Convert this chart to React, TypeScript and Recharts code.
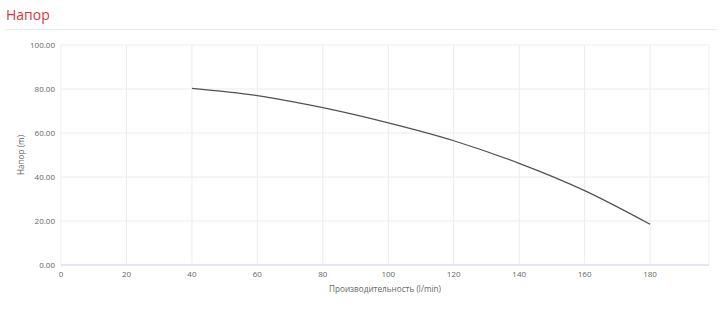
import { CartesianGrid, Line, LineChart, XAxis, YAxis } from 'recharts';

const flow = [40, 60, 80, 100, 120, 140, 160, 180];
const head = [80.3, 77.0, 71.5, 64.6, 56.5, 46.2, 33.8, 18.5];
const xTicks = [0, 20, 40, 60, 80, 100, 120, 140, 160, 180];
const yTicks = [0, 20, 40, 60, 80, 100];

const data = flow.map((q, i) => ({ q, h: head[i] }));

const FONT = '"Open Sans", sans-serif';
const tick = { fontSize: 8, fill: '#666666', fontFamily: FONT };

const YLabel = () => (
  <text x={20} y={155} transform="rotate(-90, 20, 155)" textAnchor="middle" dominantBaseline="central" fontSize={8.2} fill="#666666" fontFamily={FONT}>
    Напор (m)
  </text>
);

export default function App() {
  return (
    <div style={{ position: 'absolute', left: 0, top: 0, width: 723, height: 310, background: '#fff', fontFamily: FONT }}>
      <div style={{ position: 'absolute', left: 6, top: 5, fontSize: 14, color: '#d9363c' }}>Напор</div>
      <div style={{ position: 'absolute', left: 5, top: 29, width: 712, borderTop: '1px solid #ebebeb' }} />
      <div style={{ position: 'absolute', left: 0, top: 0 }}>
        <LineChart width={723} height={310} data={data} margin={{ top: 45, right: 14, bottom: 15, left: 0 }}>
          <CartesianGrid stroke="#ececec" />
          <XAxis
            type="number"
            dataKey="q"
            domain={[0, 198]}
            ticks={xTicks}
            tick={tick}
            tickLine={false}
            tickSize={4}
            axisLine={{ stroke: '#ccd6eb' }}
            height={30}
            label={{ value: 'Производительность (l/min)', position: 'insideBottom', offset: 3, fontSize: 8.2, fill: '#666666', fontFamily: FONT }}
          />
          <YAxis
            type="number"
            domain={[0, 100]}
            ticks={yTicks}
            tick={tick}
            tickFormatter={(v: number) => v.toFixed(2)}
            tickLine={false}
            axisLine={false}
            tickSize={4}
            width={61}
            label={<YLabel />}
          />
          <Line type="monotone" dataKey="h" stroke="#505055" strokeWidth={1.2} dot={false} isAnimationActive={false} />
        </LineChart>
      </div>
    </div>
  );
}
